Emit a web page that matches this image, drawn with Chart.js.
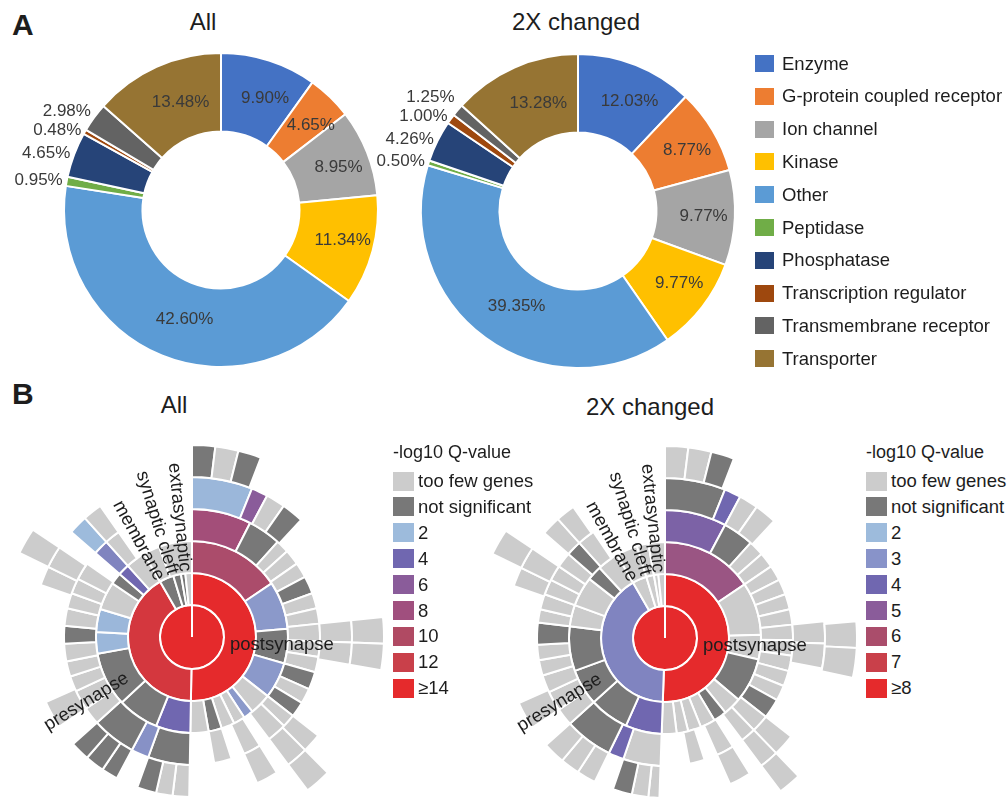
<!DOCTYPE html>
<html>
<head>
<meta charset="utf-8">
<title>Protein classes and SynGO cellular component sunbursts</title>
<script src="https://cdn.jsdelivr.net/npm/chart.js@4.4.1/dist/chart.umd.min.js"></script>
<style>
  html, body { margin:0; padding:0; background:#fff; }
  body { width:1007px; height:798px; overflow:hidden; position:relative;
         font-family:"Liberation Sans", Arial, Helvetica, sans-serif; color:#1d1d1d; }
  .t { position:absolute; white-space:nowrap; line-height:1; }
  .sw { position:absolute; }
  canvas { position:absolute; }
</style>
</head>
<body>
<div class="t" style="left:12px;top:10px;font-size:30px;font-weight:bold;">A</div>
<div class="t" style="left:12px;top:379px;font-size:30px;font-weight:bold;">B</div>
<div class="t" style="left:103px;width:200px;text-align:center;top:10px;font-size:24px;">All</div>
<div class="t" style="left:476px;width:200px;text-align:center;top:10px;font-size:24px;">2X changed</div>
<div class="t" style="left:74px;width:200px;text-align:center;top:393px;font-size:24px;">All</div>
<div class="t" style="left:550px;width:200px;text-align:center;top:395px;font-size:24px;">2X changed</div>

<canvas id="donutAll" width="440" height="340" style="left:1px;top:40px;"></canvas>
<canvas id="donut2x" width="440" height="340" style="left:358px;top:41px;"></canvas>
<canvas id="sunAll" width="400" height="400" style="left:-8px;top:437px;"></canvas>
<canvas id="sun2x" width="400" height="400" style="left:465px;top:438px;"></canvas>

<script>
// ================= Panel A data =================
const proteinClasses = ['Enzyme','G-protein coupled receptor','Ion channel','Kinase','Other',
  'Peptidase','Phosphatase','Transcription regulator','Transmembrane receptor','Transporter'];
const classColors = ['#4472C4','#ED7D31','#A5A5A5','#FFC000','#5B9BD5',
  '#70AD47','#264478','#9E480E','#636363','#967433'];
const pctAll = [9.90, 4.65, 8.95, 11.34, 42.60, 0.95, 4.65, 0.48, 2.98, 13.48];
const pct2x  = [12.03, 8.77, 9.77, 9.77, 39.35, 0.50, 4.26, 1.00, 1.25, 13.28];
const outsideLabelClasses = ['Peptidase','Phosphatase','Transcription regulator','Transmembrane receptor'];

// ================= Panel B data =================
// Sunburst rings: angular spans in degrees, clockwise from 12 o'clock.
// Q values: -log10 Q-value, 'ns' = not significant, 'few' = too few genes, null = no term.
const allL0Span = [360];
const allL0Q    = [15];
const allL1Span = [181, 149, 13, 7, 4, 6];
const allL1Q    = [15, 12.8, 'ns', 'ns', 'ns', 'few'];
const allL2Span = [56, 29, 21, 22, 13, 6, 7, 8, 8, 11,
                   21, 25, 33, 13, 14, 17, 7, 7, 12, 10, 20];
const allL2Q    = [9.4, 2.8, 'ns', 2.8, 'few', 2.8, 'few', 'few', 'ns', 'few',
                   4, 'ns', 'ns', 2.1, 2.1, 'few', 'ns', 4, 'few', 'few', 'few'];
const allL3Span = [27, 15, 6, 7, 7, 8, 7, 7, 8, 7, 7, 8, 7, 7,
                   6, 9, 5, 8, 6, 8, 11,
                   19, 8, 20, 8, 9, 7, 7, 8, 8, 8, 7, 7, 8, 6, 7, 7, 35];
const allL3Q    = [8.4, 'ns', 'few', 'few', 'few', 'ns', 'few', 'few', 'few', 'few', 'few', 'ns', 'few', 'ns',
                   'few', 'few', null, 'few', null, 'few', null,
                   'ns', 3, 'ns', 'few', 'few', 'few', 'few', 'few', 'ns', 'few', 'few', 'few', 'few', null, 3.3, 'few', null];
const allL4Span = [22, 6, 7, 8, 41, 8, 8, 28, 7, 8, 5, 8, 25,
                   6, 6, 7, 8, 6, 7, 7, 8, 10, 43, 7, 8, 7, 7, 7, 35];
const allL4Q    = [2.1, 6, 'few', 'ns', null, 'few', 'few', null, 'few', 'few', null, 'few', null,
                   'few', 'few', 'ns', null, 'ns', 'ns', 'ns', null, 'few', null, 'few', 'few', null, 2, 'few', null];
const allL5Span = [7, 7, 7, 63, 8, 8, 35, 8, 153, 8, 56];
const allL5Q    = ['ns', 'few', 'ns', null, 'few', 'few', null, 'few', null, 'few', null];

const x2L0Span = [360];
const x2L0Q    = [9];
const x2L1Span = [182, 148, 13, 7, 4, 6];
const x2L1Q    = [9, 3.35, 'few', 'few', 'few', 'few'];
const x2L2Span = [56, 32, 15, 27, 11, 8, 9, 8, 7, 9,
                  22, 24, 22, 27, 13, 18, 9, 13, 13, 7, 10];
const x2L2Q    = [5.5, 'few', 'few', 'ns', 'few', 'ns', 'few', 'few', 'few', 'few',
                  4, 'ns', 'ns', 'ns', 'few', 'few', 'ns', 'few', 'few', 'few', 'few'];
const x2L3Span = [28, 14, 7, 7, 7, 7, 7, 7, 7, 7, 7, 7, 7, 9,
                  8, 7, 5, 8, 6, 7, 13,
                  17, 7, 22, 8, 9, 8, 7, 7, 10, 6, 7, 7, 7, 7, 7, 8, 34];
const x2L3Q    = [4.45, 'ns', 'few', 'few', 'few', 'few', 'few', 'few', 'few', 'few', 'few', 'few', 'few', 'ns',
                  'few', 'few', null, 'few', null, 'few', null,
                  'few', 4, 'ns', 'few', 'few', 'few', 'few', 'few', 'ns', 'few', 'few', 'few', 'few', 'few', 'ns', 'few', null];
const x2L4Span = [22, 6, 7, 8, 41, 8, 9, 27, 8, 7, 5, 8, 26,
                  4, 6, 7, 7, 7, 7, 8, 8, 10, 43, 7, 8, 7, 7, 7, 35];
const x2L4Q    = ['ns', 4, 'few', 'few', null, 'few', 'few', null, 'few', 'few', null, 'few', null,
                  'few', 'few', 'ns', null, 'few', 'few', 'few', null, 'few', null, 'few', 'few', null, 'few', 'few', null];
const x2L5Span = [7, 7, 7, 64, 8, 9, 34, 7, 153, 8, 56];
const x2L5Q    = ['few', 'few', 'ns', null, 'few', 'few', null, 'few', null, 'few', null];

// Colour scales (legend swatches)
const allScaleQ      = [2, 4, 6, 8, 10, 12, 14];
const allScaleColors = ['#9DBBDC','#7067B0','#8A5C9A','#A04F7E','#B04A63','#C9404A','#E52A2C'];
const allLegendTicks = ['2','4','6','8','10','12','≥14'];
const x2ScaleQ       = [2, 3, 4, 5, 6, 7, 8];
const x2ScaleColors  = ['#9DBBDC','#8893C9','#7067B0','#8A5C9A','#AA4D6B','#C9404A','#E52A2C'];
const x2LegendTicks  = ['2','3','4','5','6','7','≥8'];
const FEW_COLOR = '#CCCCCC';
const NS_COLOR  = '#787878';

const FONT = '"Liberation Sans", Arial, Helvetica, sans-serif';

// ================= helpers =================
function hexRgb(h){ h = h.replace('#',''); return [0,2,4].map(i => parseInt(h.substr(i,2),16)); }
function qColor(q, sv, sc){
  if (q === null) return 'rgba(0,0,0,0)';
  if (q === 'few') return FEW_COLOR;
  if (q === 'ns') return NS_COLOR;
  if (q <= sv[0]) return sc[0];
  if (q >= sv[sv.length-1]) return sc[sc.length-1];
  for (let i = 0; i < sv.length-1; i++) {
    if (q >= sv[i] && q <= sv[i+1]) {
      const t = (q - sv[i])/(sv[i+1]-sv[i]);
      const a = hexRgb(sc[i]), b = hexRgb(sc[i+1]);
      const c = a.map((v,k) => Math.round(v + (b[k]-v)*t));
      return 'rgb(' + c.join(',') + ')';
    }
  }
  return sc[0];
}

// ================= Panel A =================
const pctLabelPlugin = {
  id: 'pctLabels',
  afterDatasetsDraw(chart) {
    const ctx = chart.ctx;
    const meta = chart.getDatasetMeta(0);
    const values = chart.data.datasets[0].data;
    const labels = chart.data.labels;
    ctx.save();
    ctx.font = '17px ' + FONT;
    ctx.fillStyle = '#3a3a3a';
    ctx.textBaseline = 'middle';
    const outside = [];
    meta.data.forEach((arc, i) => {
      const txt = values[i].toFixed(2) + '%';
      if (outsideLabelClasses.includes(labels[i])) { outside.push({arc, txt}); return; }
      const p = arc.tooltipPosition(true);
      ctx.textAlign = 'center';
      ctx.fillText(txt, p.x + 8, p.y);
    });
    let prevY = Infinity;
    outside.forEach(({arc, txt}) => {
      const p = arc.getProps(['x','y','startAngle','endAngle','outerRadius'], true);
      const a = (p.startAngle + p.endAngle) / 2;
      const r = p.outerRadius + 4;
      const lx = p.x + Math.cos(a) * r;
      let ly = p.y + Math.sin(a) * r;
      if (ly > prevY - 19) ly = prevY - 19;
      prevY = ly;
      ctx.textAlign = 'right';
      ctx.fillText(txt, lx, ly);
    });
    ctx.restore();
  }
};

function classDonut(id, pcts) {
  return new Chart(document.getElementById(id), {
    type: 'doughnut',
    data: { labels: proteinClasses,
      datasets: [{ data: pcts, backgroundColor: classColors, borderColor: '#ffffff', borderWidth: 2 }] },
    options: { responsive: false, animation: false, events: [], radius: 157, cutout: '50%',
      plugins: { legend: { display: false }, tooltip: { enabled: false } } },
    plugins: [pctLabelPlugin]
  });
}
classDonut('donutAll', pctAll);
classDonut('donut2x', pct2x);

// ================= Panel B =================
const sunLabelPlugin = {
  id: 'sunLabels',
  afterDatasetsDraw(chart, args, opts) {
    const arc0 = chart.getDatasetMeta(0).data[0];
    const cx = arc0.x, cy = arc0.y;
    const ctx = chart.ctx;
    ctx.save();
    ctx.font = '18.5px ' + FONT;
    ctx.fillStyle = '#1d1d1d';
    ctx.textBaseline = 'middle';
    (opts.items || []).forEach(it => {
      const th = it.angle * Math.PI / 180;
      const ux = Math.sin(th), uy = -Math.cos(th);
      ctx.save();
      ctx.translate(cx + ux * it.r, cy + uy * it.r);
      if (ux > 0.01) { ctx.rotate(Math.atan2(uy, ux)); ctx.textAlign = 'left'; }
      else { ctx.rotate(Math.atan2(-uy, -ux)); ctx.textAlign = 'right'; }
      ctx.fillText(it.text, 0, it.perp || 0);
      ctx.restore();
    });
    ctx.restore();
  }
};

const sunTermLabels = [
  { text: 'postsynapse', angle: 90, r: 38, perp: 8 },
  { text: 'presynapse', angle: 238.5, r: 76 },
  { text: 'membrane', angle: 331, r: 66 },
  { text: 'synaptic cleft', angle: 343, r: 66 },
  { text: 'extrasynaptic', angle: 354, r: 66 }
];

function sunburst(id, levels, sv, sc) {
  const datasets = levels.slice().reverse().map(([spans, qs]) => ({
    data: spans,
    backgroundColor: qs.map(q => qColor(q, sv, sc)),
    borderColor: '#ffffff',
    borderWidth: qs.map(q => q === null ? 0 : 2)
  }));
  return new Chart(document.getElementById(id), {
    type: 'doughnut',
    data: { labels: levels[levels.length-1][0].map((_, i) => 'term ' + (i+1)), datasets },
    options: { responsive: false, animation: false, events: [], radius: 192, cutout: 0,
      plugins: { legend: { display: false }, tooltip: { enabled: false },
                 sunLabels: { items: sunTermLabels } } },
    plugins: [sunLabelPlugin]
  });
}
sunburst('sunAll', [[allL0Span, allL0Q], [allL1Span, allL1Q], [allL2Span, allL2Q],
                    [allL3Span, allL3Q], [allL4Span, allL4Q], [allL5Span, allL5Q]],
         allScaleQ, allScaleColors);
sunburst('sun2x', [[x2L0Span, x2L0Q], [x2L1Span, x2L1Q], [x2L2Span, x2L2Q],
                   [x2L3Span, x2L3Q], [x2L4Span, x2L4Q], [x2L5Span, x2L5Q]],
         x2ScaleQ, x2ScaleColors);

// ================= Legends (HTML text) =================
function addText(txt, left, top, size) {
  const d = document.createElement('div');
  d.className = 't'; d.textContent = txt;
  d.style.left = left + 'px'; d.style.top = top + 'px'; d.style.fontSize = size + 'px';
  document.body.appendChild(d);
}
function addSwatch(color, left, top, w, h) {
  const d = document.createElement('div');
  d.className = 'sw';
  Object.assign(d.style, { left: left+'px', top: top+'px', width: w+'px', height: h+'px', background: color });
  document.body.appendChild(d);
}
// Panel A legend
proteinClasses.forEach((name, i) => {
  const yc = 63.5 + i * 32.8;
  addSwatch(classColors[i], 755, Math.round(yc - 8.5), 19, 17);
  addText(name, 782, Math.round(yc - 9), 18.5);
});
// Panel B legends
function qLegend(x, ticks, sv, sc) {
  addText('-log10 Q-value', x, 443, 18);
  const rows = [['too few genes', FEW_COLOR], ['not significant', NS_COLOR]]
    .concat(ticks.map((t, i) => [t, sc[i]]));
  rows.forEach(([lab, col], i) => {
    const yc = 481 + i * 25.9;
    addSwatch(col, x, Math.round(yc - 9.5), 21, 19);
    addText(lab, x + 25, Math.round(yc - 9), 18.5);
  });
}
qLegend(393, allLegendTicks, allScaleQ, allScaleColors);
qLegend(866, x2LegendTicks, x2ScaleQ, x2ScaleColors);
</script>
</body>
</html>
